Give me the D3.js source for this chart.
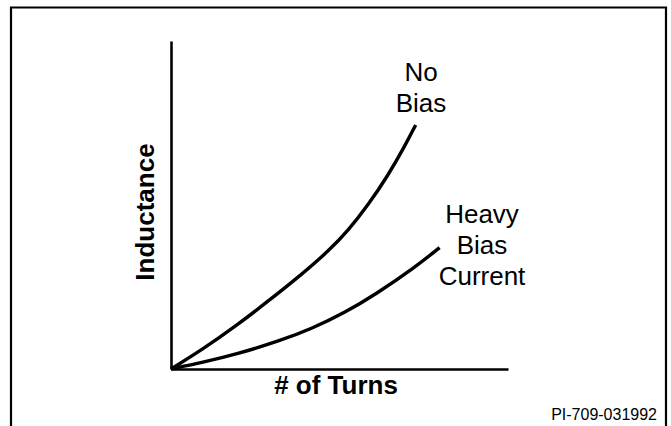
<!DOCTYPE html>
<html>
<head>
<meta charset="utf-8">
<script src="https://cdn.jsdelivr.net/npm/d3@7"></script>
<style>
  body { margin: 0; background: #fff; }
  svg { display: block; }
  .axis path { stroke: #000; stroke-width: 2.6px; }
  text { font-family: "Liberation Sans", Arial, Helvetica, sans-serif; fill: #000; }
</style>
</head>
<body>
<div id="chart"></div>
<script>
// curve data (arbitrary units, turns vs inductance)
var noBiasTurns = [0, 0.94, 1.94, 2.91, 3.85, 4.68, 5.26, 5.85, 6.44, 6.94, 7.26];
var noBiasL     = [0, 0.60, 1.32, 2.09, 2.86, 3.60, 4.22, 5.00, 5.90, 6.80, 7.44];
var heavyTurns  = [0, 0.94, 1.94, 3.21, 4.18, 5.18, 6.06, 7.24, 7.97];
var heavyL      = [0, 0.20, 0.45, 0.85, 1.23, 1.73, 2.27, 3.10, 3.70];
var noBiasLabel = ["No", "Bias"];
var heavyLabel  = ["Heavy", "Bias", "Current"];

var W = 671, H = 426;
var margin = {top: 41, right: 163, bottom: 57, left: 171};
var width = W - margin.left - margin.right;
var height = H - margin.top - margin.bottom;

var svg = d3.select("#chart").append("svg")
  .attr("width", W)
  .attr("height", H);

// outer frame (open at the bottom)
svg.append("path")
  .attr("d", "M11,430 L11,7.5 L666,7.5 L666,430")
  .attr("fill", "none")
  .attr("stroke", "#000")
  .attr("stroke-width", 2.2);

var g = svg.append("g")
  .attr("transform", "translate(" + margin.left + "," + margin.top + ")");

var x = d3.scaleLinear().domain([0, 10]).range([0, width]);
var y = d3.scaleLinear().domain([0, 10]).range([height, 0]);

//axes with no ticks, just the lines
g.append("g")
  .attr("class", "x axis")
  .attr("transform", "translate(0," + height + ")")
  .call(d3.axisBottom(x).tickValues([]).tickSizeOuter(0));
g.append("g")
  .attr("class", "y axis")
  .call(d3.axisLeft(y).tickValues([]).tickSizeOuter(0));

var line = d3.line()
  .x(function(d) { return x(d[0]); })
  .y(function(d) { return y(d[1]); })
  .curve(d3.curveBasis);

var series = [
  d3.zip(noBiasTurns, noBiasL),
  d3.zip(heavyTurns, heavyL)
];

g.selectAll("path.curve")
  .data(series)
  .enter().append("path")
  .attr("class", "curve")
  .attr("d", line)
  .attr("fill", "none")
  .attr("stroke", "#000")
  .attr("stroke-width", 3.4)
  .attr("stroke-linecap", "butt");

//curve labels
var lab1 = svg.append("text")
  .attr("text-anchor", "middle")
  .style("font-size", "26px");
lab1.selectAll("tspan").data(noBiasLabel).enter().append("tspan")
  .attr("x", 421)
  .attr("y", function(d, i) { return 81 + i * 31; })
  .text(function(d) { return d; });

var lab2 = svg.append("text")
  .attr("text-anchor", "middle")
  .style("font-size", "26px");
lab2.selectAll("tspan").data(heavyLabel).enter().append("tspan")
  .attr("x", 482)
  .attr("y", function(d, i) { return 223 + i * 31; })
  .text(function(d) { return d; });

//axis titles
svg.append("text")
  .attr("x", 336)
  .attr("y", 394)
  .attr("text-anchor", "middle")
  .style("font-size", "26px")
  .style("font-weight", "bold")
  .text("# of Turns");

svg.append("text")
  .attr("transform", "translate(154,212) rotate(-90)")
  .attr("text-anchor", "middle")
  .style("font-size", "26px")
  .style("font-weight", "bold")
  .text("Inductance");

svg.append("text")
  .attr("x", 657)
  .attr("y", 420)
  .attr("text-anchor", "end")
  .style("font-size", "16px")
  .text("PI-709-031992");
</script>
</body>
</html>
